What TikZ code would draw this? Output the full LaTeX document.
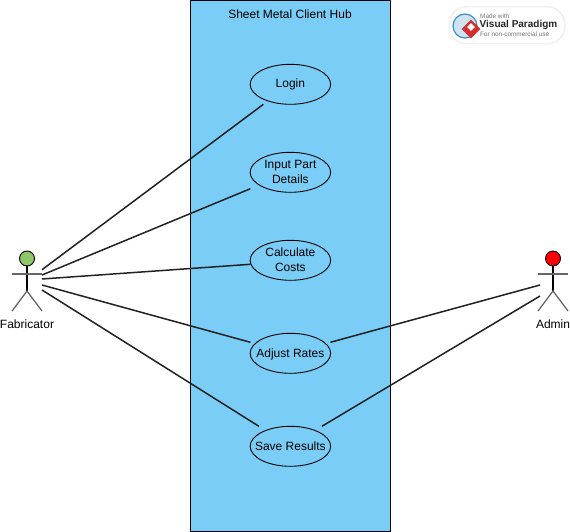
\documentclass[tikz,border=0pt]{standalone}
\usepackage{fontspec}
\setmainfont{Liberation Sans}
\usetikzlibrary{shapes.geometric}
\definecolor{hub}{HTML}{7ACDF6}
\definecolor{ink}{HTML}{222222}
\definecolor{limb}{HTML}{666666}
\definecolor{vpblue}{HTML}{3D8FC4}
\definecolor{vpred}{HTML}{D42E2E}
\definecolor{fabgreen}{HTML}{8DC76A}
\newcommand\uctxt[1]{\raisebox{-3.7pt}[0pt][0pt]{\makebox[0pt]{\begin{tabular}{@{}c@{}}#1\end{tabular}}}}
\tikzset{
  x=1pt,y=-1pt,
  usecase/.style={draw=black,fill=hub,ellipse,line width=.9pt,minimum width=80.5pt,minimum height=40pt,inner sep=0pt,font=\fontsize{12}{15}\selectfont},
  assoc/.style={draw=ink,line width=1.5pt},
  limbline/.style={draw=limb,line width=1.3pt},
  bodyline/.style={draw=black,line width=1.1pt},
  headnode/.style={draw=black,circle,minimum size=15pt,inner sep=0pt,line width=.9pt},
  lbl/.style={font=\fontsize{12}{15}\selectfont,inner sep=0pt}
}
\begin{document}
\begin{tikzpicture}
\useasboundingbox (0,0) rectangle (570,532);
\fill[white] (0,0) rectangle (570,532);
\node[draw=black,fill=hub,line width=.9pt,minimum width=199.5pt,minimum height=531pt,inner sep=0pt] (hub) at (290.25,265.5) {};
\node[lbl] (title) at (290,14) {Sheet Metal Client Hub};
\node[usecase] (login) at (290.4,84.3) {\uctxt{Login}};
\node[usecase] (input) at (290.4,172.3) {\uctxt{Input Part\\Details}};
\node[usecase] (calc) at (290.4,260.3) {\uctxt{Calculate\\Costs}};
\node[usecase] (adjust) at (290.4,353.3) {\uctxt{Adjust Rates}};
\node[usecase] (save) at (290.4,446.3) {\uctxt{Save Results}};
% Fabricator
\draw[bodyline] (27,266) -- (27,291);
\draw[limbline] (12,274) -- (42,274);
\draw[limbline] (12,311) -- (27,291) -- (42,311);
\node[headnode,fill=fabgreen] (fhead) at (27,258.5) {};
\node[lbl] (fab) at (27,324) {Fabricator};
% Admin
\draw[bodyline] (553,266) -- (553,291);
\draw[limbline] (538,274) -- (568,274);
\draw[limbline] (538,311) -- (553,291) -- (568,311);
\node[headnode,fill=red] (ahead) at (553,258.5) {};
\node[lbl] (adm) at (553,324) {Admin};
% connector ends on the actors
\coordinate (f1) at (42,269.7);
\coordinate (f2) at (42,275);
\coordinate (f3) at (42,279);
\coordinate (f4) at (42,285);
\coordinate (f5) at (42,290);
\coordinate (a1) at (540,285);
\coordinate (a2) at (540,296);
\draw[assoc] (f1) -- ([shift={(-27,20)}]login.center);
\draw[assoc] (f2) -- ([shift={(-40,16.4)}]input.center);
\draw[assoc] (f3) -- ([shift={(-40,4)}]calc.center);
\draw[assoc] (f4) -- ([shift={(-40,-11)}]adjust.center);
\draw[assoc] (f5) -- ([shift={(-31.5,-20)}]save.center);
\draw[assoc] (a1) -- ([shift={(40,-11)}]adjust.center);
\draw[assoc] (a2) -- ([shift={(31.5,-20)}]save.center);
% Logo
\fill[black!6,rounded corners=18pt] (448.5,6) rectangle (565.5,44.5);
\fill[white,rounded corners=17pt] (450,7.5) rectangle (564,43);
\node[draw=vpblue,fill=vpblue!25,circle,minimum size=24pt,inner sep=0pt,line width=1.2pt] (globe) at (465,26) {};
\node[fill=vpred,diamond,minimum size=19pt,inner sep=0pt] (mark) at (471,29) {};
\node[fill=white,diamond,minimum size=8pt,inner sep=0pt] (markin) at (471,27) {};
\node[anchor=west,inner sep=0pt,text=black!55,font=\fontsize{6.4}{8}\selectfont] (made) at (480,16) {Made with};
\node[anchor=west,inner sep=0pt,text=black!85,font=\fontsize{10}{12}\selectfont\bfseries] (vp) at (479.5,25) {Visual Paradigm};
\node[anchor=west,inner sep=0pt,text=black!55,font=\fontsize{6.4}{8}\selectfont] (nc) at (480,34) {For non-commercial use};
\end{tikzpicture}
\end{document}
